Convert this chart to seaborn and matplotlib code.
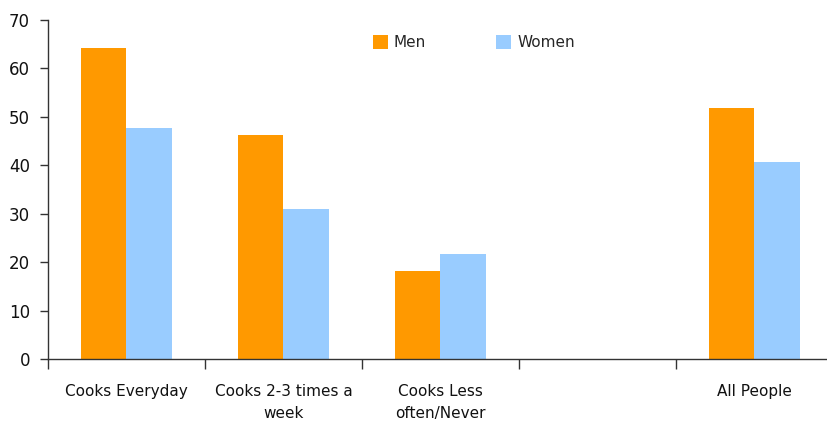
import numpy as np
import pandas as pd
import matplotlib
matplotlib.use("Agg")
import matplotlib.pyplot as plt
import seaborn as sns
from matplotlib.ticker import FixedLocator, NullFormatter

sns.set_theme(style="white")
plt.rcParams["font.family"] = ["DejaVu Sans"]

categories = ["Cooks Everyday", "Cooks 2-3 times a\nweek", "Cooks Less\noften/Never", " ", "All People"]
men = [64.3, 46.3, 18.2, np.nan, 51.9]
women = [47.7, 31.0, 21.7, np.nan, 40.7]
groups = ["Men", "Women"]
colors = ["#FF9900", "#99CCFF"]

df = pd.DataFrame({
    "category": categories * 2,
    "group": ["Men"] * len(categories) + ["Women"] * len(categories),
    "value": men + women,
})

fig = plt.figure(figsize=(8.28, 4.24), dpi=100)
ax = fig.add_axes([48 / 828, 1 - 359 / 424, 1 - 48 / 828, (359 - 20) / 424])

sns.barplot(data=df, x="category", y="value", hue="group", order=categories,
            hue_order=groups, palette=colors, width=0.58, saturation=1,
            errorbar=None, ax=ax, linewidth=0)

ax.set_xlim(-0.5, 4.47)
ax.set_ylim(0, 70)
ax.set_yticks(np.arange(0, 71, 10))
ax.set_xlabel("")
ax.set_ylabel("")

# category boundaries get tick marks, centers get the labels
ax.xaxis.set_major_locator(FixedLocator(np.arange(-0.5, 5.0, 1.0)))
ax.xaxis.set_major_formatter(NullFormatter())
ax.xaxis.set_minor_locator(FixedLocator(np.arange(len(categories))))
ax.set_xticklabels(categories, minor=True, linespacing=1.6)
ax.tick_params(axis="x", which="major", length=7, width=1, color="#333333", direction="out", bottom=True)
ax.tick_params(axis="x", which="minor", length=0, pad=18, labelsize=11, labelcolor="#111111")
ax.tick_params(axis="y", length=6, width=1, color="#333333", direction="out", left=True,
               labelsize=12, labelcolor="#111111", pad=7)

for side in ["top", "right"]:
    ax.spines[side].set_visible(False)
for side in ["left", "bottom"]:
    ax.spines[side].set_color("#333333")
    ax.spines[side].set_linewidth(1)

leg = ax.legend(loc="upper center", ncol=2, frameon=False,
                fontsize=11, handlelength=0.95, handleheight=0.95, handletextpad=0.4,
                columnspacing=4.6, borderaxespad=0.6)
leg.set_bbox_to_anchor(((474 - 48) / 780, 1.0), transform=ax.transAxes)

fig.savefig("out.png", dpi=100)
